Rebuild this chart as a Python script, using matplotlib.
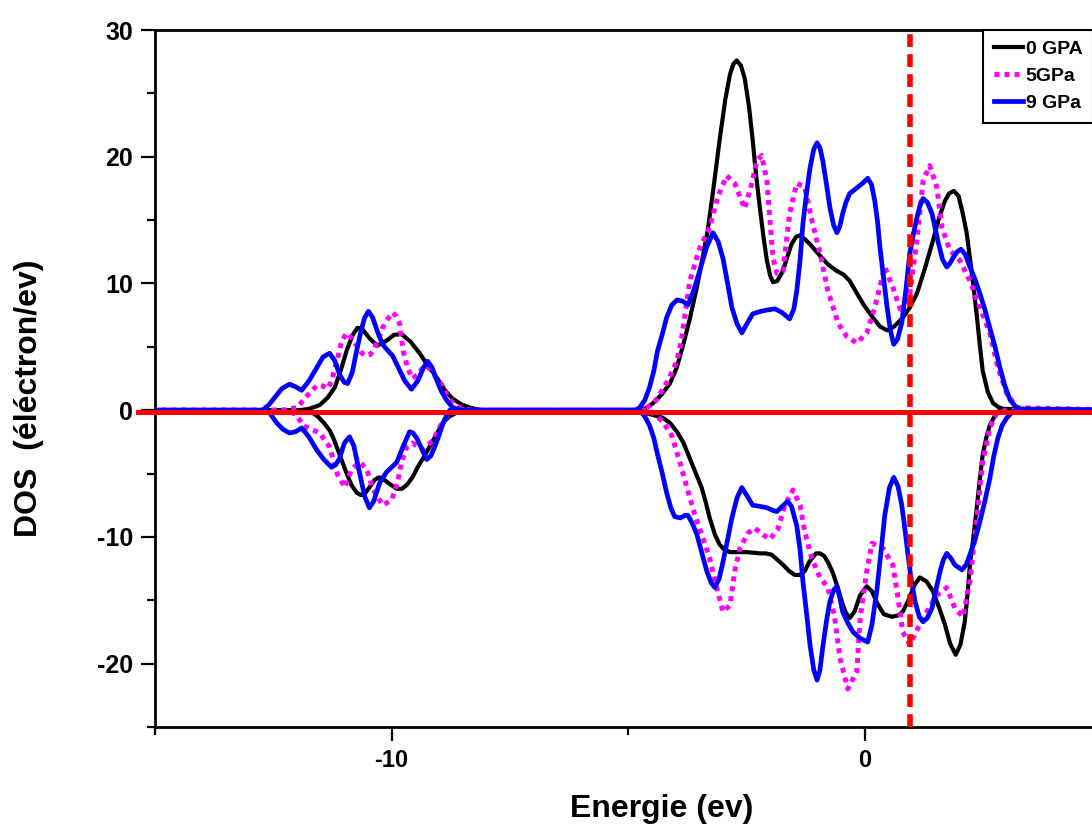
import matplotlib
matplotlib.use("Agg")
import matplotlib.pyplot as plt
from matplotlib.ticker import MultipleLocator

plt.rcParams['font.family'] = ['Liberation Sans', 'DejaVu Sans']
plt.rcParams['font.weight'] = 'bold'
plt.rcParams['axes.unicode_minus'] = False

# ---------------- data ----------------
labels = ["0 GPA", "5GPa", "9 GPa"]

# 0 GPa, spin up
e_0up = [-15.5, -11.95, -11.75, -11.52, -11.35, -11.2, -11.07, -10.95, -10.83, -10.72, -10.62, -10.45,
         -10.30, -10.1, -9.95, -9.79, -9.6, -9.41, -9.23, -9.05, -8.88, -8.71, -8.52, -8.35, -8.1,
         -4.76, -4.6, -4.48, -4.3, -4.12, -3.98, -3.85, -3.7, -3.55, -3.43, -3.32, -3.2, -3.07, -2.95,
         -2.85, -2.78, -2.71, -2.62, -2.54, -2.45, -2.37, -2.3, -2.22, -2.14, -2.07, -2.0, -1.94, -1.85,
         -1.73, -1.63, -1.55, -1.45, -1.37, -1.27, -1.16, -0.95, -0.78, -0.60, -0.45, -0.32, -0.18,
         -0.04, 0.17, 0.32, 0.47, 0.62, 0.80, 0.95, 1.10, 1.27, 1.44, 1.57, 1.69, 1.78, 1.88, 1.98,
         2.07, 2.15, 2.22, 2.30, 2.37, 2.43, 2.49, 2.6, 2.71, 2.82, 2.92, 5.5]
d_0up = [0, 0, 0.1, 0.4, 1.0, 1.8, 3.2, 4.7, 5.9, 6.5, 6.4, 5.6,
         5.1, 5.5, 5.95, 6.0, 5.4, 4.5, 3.5, 2.6, 1.6, 0.9, 0.45, 0.2, 0,
         0, 0.2, 0.55, 1.2, 2.1, 3.3, 5.0, 7.2, 9.7, 12.0, 14.2, 17.5, 21.3, 24.5,
         26.5, 27.3, 27.6, 27.2, 26.2, 24.0, 21.3, 18.6, 16.0, 13.6, 11.8, 10.6, 10.1, 10.2,
         11.0, 12.2, 13.1, 13.7, 13.8, 13.5, 13.1, 12.2, 11.5, 11.0, 10.7, 10.2, 9.3,
         8.4, 7.3, 6.6, 6.3, 6.6, 7.3, 8.1, 9.2, 11.2, 13.4, 15.2, 16.5, 17.1, 17.3, 16.9,
         15.5, 14.0, 12.0, 9.6, 7.3, 5.1, 3.1, 1.4, 0.55, 0.25, 0.1, 0]

# 0 GPa, spin down
e_0dn = [-15.5, -11.75, -11.56, -11.43, -11.31, -11.22, -11.14, -11.05, -10.95, -10.85, -10.74, -10.65,
         -10.57, -10.47, -10.36, -10.27, -10.19, -10.05, -9.89, -9.78, -9.68, -9.56, -9.45, -9.32,
         -9.20, -9.05, -8.92, -8.78, -8.63, -8.35,
         -4.76, -4.69, -4.5, -4.27, -4.12, -3.97, -3.83, -3.70, -3.57, -3.45, -3.36, -3.28, -3.17,
         -3.07, -2.97, -2.85, -2.49, -2.22, -2.1, -1.97, -1.85, -1.73, -1.6, -1.48, -1.37, -1.27,
         -1.18, -1.12, -1.03, -0.95, -0.86, -0.78, -0.68, -0.59, -0.48, -0.4, -0.32, -0.22, -0.1,
         0.04, 0.15, 0.27, 0.40, 0.57, 0.70, 0.80, 0.92, 1.05, 1.16, 1.3, 1.44, 1.57, 1.69, 1.8,
         1.92, 2.02, 2.11, 2.17, 2.22, 2.30, 2.37, 2.43, 2.49, 2.57, 2.64, 2.75, 2.85, 5.5]
d_0dn = [0, 0, -0.5, -1.0, -1.6, -2.3, -3.1, -4.0, -5.0, -5.9, -6.5, -6.7,
         -6.6, -6.1, -5.5, -5.3, -5.4, -5.8, -6.2, -6.2, -5.9, -5.3, -4.5, -3.7,
         -2.9, -1.9, -1.0, -0.5, -0.2, 0,
         0, -0.2, -0.35, -0.6, -1.0, -1.7, -2.6, -3.8, -5.0, -6.1, -7.3, -8.5, -9.8,
         -10.6, -11.0, -11.2, -11.2, -11.3, -11.3, -11.4, -11.8, -12.2, -12.7, -13.0, -13.0, -12.7,
         -12.0, -11.7, -11.3, -11.3, -11.5, -12.0, -12.8, -13.8, -15.2, -16.0, -16.4, -15.9, -14.6,
         -13.9, -14.3, -15.3, -16.1, -16.3, -16.2, -15.9, -15.0, -13.8, -13.2, -13.5, -14.3, -15.6, -16.9, -18.4,
         -19.3, -18.5, -16.7, -14.5, -12.2, -9.8, -7.5, -5.4, -3.5, -2.1, -1.2, -0.4, 0, 0]

# 5 GPa, spin up
e_5up = [-15.5, -12.3, -12.0, -11.84, -11.7, -11.56, -11.45, -11.35, -11.27, -11.2, -11.12, -11.06,
         -10.95, -10.85, -10.74, -10.65, -10.57, -10.45, -10.36, -10.27, -10.19, -10.08, -9.98, -9.9,
         -9.83, -9.8, -9.75, -9.66, -9.56, -9.45, -9.35, -9.26, -9.15, -9.05, -8.94, -8.85, -8.77,
         -8.66, -8.56, -8.3,
         -4.8, -4.61, -4.45, -4.33, -4.15, -3.97, -3.88, -3.81, -3.70, -3.49, -3.28, -3.11, -2.92,
         -2.75, -2.54, -2.39, -2.28, -2.18, -2.07, -2.01, -1.94, -1.86, -1.73, -1.59, -1.44, -1.27,
         -1.12, -0.95, -0.78, -0.57, -0.38, -0.17, 0.04, 0.21, 0.42, 0.59, 0.78, 0.95, 1.10, 1.23,
         1.37, 1.52, 1.63, 1.80, 2.01, 2.22, 2.43, 2.64, 2.81, 3.00, 3.21, 5.5]
d_5up = [0, 0, 0.2, 0.9, 1.5, 2.0, 1.9, 1.7, 2.3, 3.3, 4.4, 5.4,
         6.1, 5.7, 5.1, 4.6, 4.3, 4.4, 4.9, 5.7, 6.5, 7.2, 7.7, 7.4,
         6.8, 5.9, 4.6, 3.3, 2.5, 2.8, 3.3, 3.5, 3.1, 2.5, 2.0, 1.3, 0.8,
         0.45, 0.2, 0,
         0, 0.2, 0.6, 1.3, 2.4, 3.9, 5.5, 7.3, 10.2, 12.8, 14.4, 16.8, 18.5,
         17.9, 15.9, 17.9, 19.7, 20.1, 18.1, 15.2, 12.0, 10.8, 11.0, 15.5, 17.9, 17.6,
         15.0, 12.4, 9.4, 6.9, 5.8, 5.3, 6.1, 8.1, 11.3, 9.7, 7.6, 9.2, 13.4, 18.1,
         19.3, 17.6, 14.4, 12.6, 11.8, 10.2, 8.1, 6.1, 3.4, 1.3, 0.2, 0]

# 5 GPa, spin down
e_5dn = [-15.5, -12.2, -12.0, -11.88, -11.52, -11.31, -11.14, -10.99, -10.85, -10.68, -10.53, -10.40,
         -10.19, -10.0, -9.87, -9.79, -9.68, -9.56, -9.34, -9.13, -8.98, -8.77, -8.5,
         -4.55, -4.27, -4.08, -3.91, -3.76, -3.59, -3.42, -3.28, -3.13, -3.00, -2.85, -2.75, -2.64,
         -2.47, -2.33, -2.16, -2.01, -1.84, -1.69, -1.52, -1.37, -1.27, -1.12, -0.95, -0.78, -0.64,
         -0.53, -0.36, -0.17, -0.10, 0.04, 0.15, 0.38, 0.59, 0.70, 0.80, 0.95, 1.12, 1.31, 1.52, 1.73,
         1.90, 2.07, 2.22, 2.37, 2.49, 2.64, 2.79, 3.0, 5.5]
d_5dn = [0, 0, -0.4, -1.2, -1.8, -2.9, -5.1, -6.1, -4.7, -4.1, -4.6, -6.2,
         -7.5, -7.1, -5.6, -4.1, -2.9, -2.6, -3.1, -2.4, -1.3, -0.2, 0,
         0, -0.9, -2.0, -4.1, -6.1, -8.3, -10.1, -11.7, -14.0, -15.9, -15.4, -12.7, -10.9,
         -9.7, -9.3, -9.8, -10.2, -9.4, -7.5, -6.3, -7.5, -9.6, -11.7, -13.2, -14.0, -16.3,
         -19.5, -22.0, -20.6, -16.4, -12.7, -10.5, -10.9, -12.2, -14.8, -17.5, -18.5, -17.2, -15.9, -14.6, -14.0,
         -15.6, -16.3, -13.5, -8.3, -4.1, -1.4, -0.2, 0, 0]

# 9 GPa, spin up
e_9up = [-15.5, -12.73, -12.6, -12.47, -12.32, -12.16, -12.03, -11.90, -11.75, -11.59, -11.45, -11.31,
         -11.2, -11.1, -11.0, -10.93, -10.83, -10.75, -10.65, -10.57, -10.49, -10.4, -10.3, -10.2,
         -10.15, -9.98, -9.85, -9.72, -9.58, -9.45, -9.32, -9.24, -9.15, -9.05, -8.95, -8.84, -8.71, -8.5,
         -4.85, -4.76, -4.65, -4.55, -4.46, -4.38, -4.28, -4.19, -4.08, -3.97, -3.85, -3.74, -3.62,
         -3.49, -3.35, -3.21, -3.1, -3.00, -2.9, -2.81, -2.7, -2.60, -2.48, -2.37, -2.2, -2.07, -1.9,
         -1.75, -1.59, -1.5, -1.44, -1.37, -1.31, -1.23, -1.16, -1.08, -1.01, -0.95, -0.89, -0.81,
         -0.74, -0.66, -0.59, -0.53, -0.47, -0.4, -0.32, -0.15, -0.05, 0.06, 0.14, 0.21, 0.27, 0.32,
         0.40, 0.47, 0.54, 0.61, 0.69, 0.78, 0.87, 0.95, 1.03, 1.10, 1.17, 1.23, 1.32, 1.42, 1.54,
         1.64, 1.73, 1.80, 1.86, 1.95, 2.03, 2.12, 2.22, 2.33, 2.43, 2.54, 2.64, 2.75, 2.85, 2.96,
         3.07, 3.18, 3.28, 5.5]
d_9up = [0, 0, 0.4, 1.0, 1.7, 2.05, 1.85, 1.57, 2.3, 3.3, 4.2, 4.49,
         3.9, 2.8, 2.2, 2.1, 3.0, 4.5, 6.2, 7.3, 7.8, 7.3, 6.2, 5.3,
         5.0, 4.3, 3.3, 2.3, 1.65, 2.3, 3.4, 3.86, 3.4, 2.4, 1.5, 0.8, 0.2, 0,
         0, 0.2, 0.8, 1.8, 3.1, 4.7, 6.0, 7.3, 8.3, 8.7, 8.6, 8.3, 9.4,
         11.0, 12.8, 14.0, 13.3, 12.0, 10.0, 8.1, 6.8, 6.1, 6.9, 7.6, 7.8, 7.9, 8.0,
         7.7, 7.2, 8.0, 9.4, 11.8, 14.7, 17.2, 19.1, 20.6, 21.1, 20.7, 19.7, 17.8,
         16.0, 14.6, 14.0, 14.5, 15.5, 16.4, 17.1, 17.6, 17.9, 18.3, 17.8, 16.5, 14.8, 12.8,
         10.3, 8.1, 6.3, 5.2, 5.6, 6.9, 9.6, 12.4, 14.0, 15.2, 16.2, 16.7, 16.4, 15.5, 13.4,
         11.9, 11.3, 11.6, 12.0, 12.5, 12.7, 12.3, 11.3, 10.3, 9.2, 7.9, 6.5, 5.0, 3.4, 1.9,
         0.8, 0.3, 0.1, 0]

# 9 GPa, spin down
e_9dn = [-15.5, -12.75, -12.58, -12.43, -12.3, -12.16, -12.03, -11.9, -11.75, -11.59, -11.43, -11.27,
         -11.18, -11.10, -11.0, -10.89, -10.8, -10.72, -10.64, -10.57, -10.47, -10.38, -10.25, -10.11,
         -9.89, -9.75, -9.62, -9.55, -9.47, -9.37, -9.26, -9.17, -9.09, -9.0, -8.94, -8.85, -8.77, -8.5,
         -4.85, -4.76, -4.65, -4.55, -4.46, -4.38, -4.28, -4.19, -4.1, -4.02, -3.9, -3.80, -3.74,
         -3.65, -3.55, -3.45, -3.34, -3.25, -3.17, -3.08, -3.00, -2.9, -2.81, -2.7, -2.60, -2.5,
         -2.37, -2.2, -2.07, -1.95, -1.86, -1.75, -1.63, -1.55, -1.44, -1.37, -1.31, -1.23, -1.16,
         -1.08, -1.01, -0.95, -0.89, -0.81, -0.74, -0.66, -0.59, -0.53, -0.47, -0.36, -0.25, -0.1,
         0.06, 0.15, 0.25, 0.34, 0.42, 0.52, 0.61, 0.70, 0.78, 0.85, 0.91, 0.98, 1.06, 1.15, 1.23,
         1.32, 1.42, 1.50, 1.59, 1.66, 1.73, 1.82, 1.90, 2.05, 2.14, 2.22, 2.33, 2.43, 2.54, 2.64,
         2.72, 2.81, 2.9, 3.0, 3.1, 3.21, 5.5]
d_9dn = [0, 0, -0.2, -1.0, -1.5, -1.8, -1.7, -1.4, -2.1, -3.1, -3.9, -4.5,
         -4.3, -3.8, -2.6, -2.1, -2.8, -4.2, -5.6, -6.8, -7.7, -7.2, -5.7, -4.9,
         -4.1, -2.8, -1.7, -1.8, -2.2, -3.0, -3.9, -3.6, -2.9, -2.0, -1.3, -0.5, 0, 0,
         0, 0, -0.5, -1.2, -2.2, -3.5, -5.0, -6.5, -7.7, -8.4, -8.5, -8.3, -8.3,
         -8.9, -9.8, -11.2, -12.7, -13.6, -14.0, -13.3, -12.0, -10.2, -8.5, -6.9, -6.1, -6.7,
         -7.5, -7.6, -7.7, -7.9, -8.0, -7.6, -7.2, -7.6, -9.1, -11.0, -13.5, -16.1, -18.5,
         -20.5, -21.3, -20.5, -18.7, -16.6, -15.1, -14.2, -13.9, -14.8, -15.9, -16.8, -17.5, -18.0,
         -18.3, -16.9, -14.3, -11.2, -8.3, -6.1, -5.3, -6.0, -7.5, -9.5, -11.4, -13.4, -15.1, -16.3, -16.7,
         -16.4, -15.6, -14.2, -12.7, -11.8, -11.3, -11.7, -12.2, -12.6, -12.2, -11.4, -10.2, -8.8, -7.1, -5.4,
         -3.7, -2.2, -1.2, -0.6, -0.2, 0, 0]

fermi_x = 0.95      # red dashed vertical line
zero_y = -0.13      # red horizontal line

x_range = (-15.0, 5.0)
y_range = (-25, 30)

# ---------------- figure ----------------
W, H = 1092, 825
fig = plt.figure(figsize=(W / 100, H / 100), dpi=100)
ax_l, ax_r, ax_t, ax_b = 155, 1101.5, 30, 727
ax = fig.add_axes([ax_l / W, 1 - ax_b / H, (ax_r - ax_l) / W, (ax_b - ax_t) / H])

c_black, c_mag, c_blue, c_red = '#000000', '#ff00ff', '#0000ff', '#ff0000'

l0, = ax.plot(e_0up, d_0up, color=c_black, lw=3.0, solid_joinstyle='round', zorder=2, label=labels[0])
ax.plot(e_0dn, d_0dn, color=c_black, lw=3.0, solid_joinstyle='round', zorder=2)
l5, = ax.plot(e_5up, d_5up, color=c_mag, lw=3.6, ls=(0, (1, 1)), zorder=3, label=labels[1])
ax.plot(e_5dn, d_5dn, color=c_mag, lw=3.6, ls=(0, (1, 1)), zorder=3)
l9, = ax.plot(e_9up, d_9up, color=c_blue, lw=3.4, solid_joinstyle='round', zorder=4, label=labels[2])
ax.plot(e_9dn, d_9dn, color=c_blue, lw=3.4, solid_joinstyle='round', zorder=4)

ax.axhline(zero_y, xmin=-0.018, xmax=1.0, color=c_red, lw=3.6, clip_on=False, zorder=6)
ax.axvline(fermi_x, color=c_red, lw=4.0, ls=(0, (2.3, 1.3)), zorder=7)

ax.set_xlim(*x_range)
ax.set_ylim(*y_range)

ax.xaxis.set_major_locator(MultipleLocator(10))
ax.xaxis.set_minor_locator(MultipleLocator(5))
ax.yaxis.set_major_locator(MultipleLocator(10))
ax.yaxis.set_minor_locator(MultipleLocator(5))

ax.tick_params(which='major', direction='out', length=10, width=1.6, pad=6)
ax.tick_params(which='minor', direction='out', length=5.5, width=1.6)
ax.tick_params(axis='y', labelsize=18)
ax.tick_params(axis='x', labelsize=17)
ax.tick_params(top=False, right=False)
for lab in ax.get_xticklabels() + ax.get_yticklabels():
    lab.set_fontweight('bold')

for s in ['left', 'bottom', 'top', 'right']:
    ax.spines[s].set_linewidth(2.0)

ax.set_xlabel("Energie (ev)", fontsize=23, fontweight='bold')
ax.xaxis.set_label_coords((662 - ax_l) / (ax_r - ax_l), (ax_b - 794) / (ax_b - ax_t))
ax.set_ylabel("DOS  (éléctron/ev)", fontsize=23, fontweight='bold')
ax.yaxis.set_label_coords((44 - ax_l) / (ax_r - ax_l), (ax_b - 398) / (ax_b - ax_t))

leg = ax.legend(handles=[l0, l5, l9], loc='upper left',
                bbox_to_anchor=((983 - ax_l) / (ax_r - ax_l), 1.0), borderaxespad=0,
                fancybox=False, framealpha=1, edgecolor='black', fontsize=14,
                borderpad=0.55, handlelength=1.5, handletextpad=0.15, labelspacing=0.48)
leg.get_frame().set_linewidth(1.5)
for t in leg.get_texts():
    t.set_fontweight('bold')

fig.savefig("out.png", dpi=100)
